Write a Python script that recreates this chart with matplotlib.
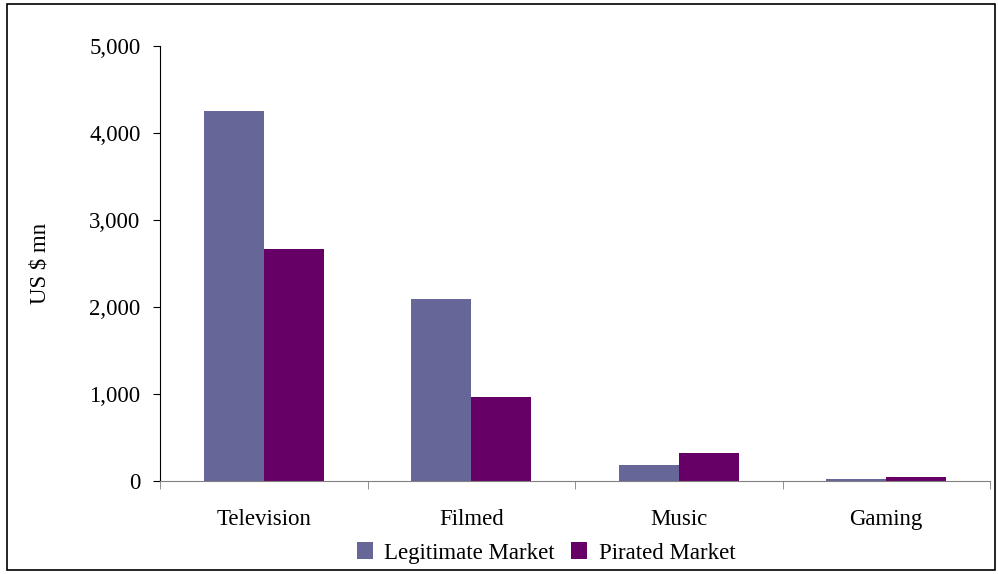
import numpy as np
import matplotlib
matplotlib.use("Agg")
import matplotlib.pyplot as plt
from matplotlib.patches import Rectangle
from matplotlib.ticker import FuncFormatter

categories = ["Television", "Filmed", "Music", "Gaming"]
legit = [4250, 2090, 185, 20]
pirated = [2670, 965, 320, 50]

plt.rcParams["font.family"] = ["Liberation Serif", "DejaVu Serif"]

fig = plt.figure(figsize=(9.98, 5.74), dpi=100)
ax = fig.add_axes([160 / 998, 1 - 481 / 574, 830 / 998, 435 / 574])

x = np.arange(len(categories))
w = 0.29
ax.bar(x - w / 2, legit, w, color="#666699", label="Legitimate Market")
ax.bar(x + w / 2, pirated, w, color="#660066", label="Pirated Market")

ax.set_xlim(-0.5, len(categories) - 0.5)
ax.set_ylim(0, 5000)
ax.set_yticks(range(0, 5001, 1000))
ax.yaxis.set_major_formatter(FuncFormatter(lambda v, p: f"{int(v):,}"))
ax.set_ylabel("US $ mn", fontsize=16.5, labelpad=28)

ax.set_xticks(x)
ax.set_xticklabels(categories, fontsize=16.5)
ax.tick_params(axis="x", length=0, pad=20)
ax.set_xticks(np.arange(-0.5, len(categories)), minor=True)
ax.tick_params(axis="x", which="minor", length=6, color="#808080", direction="out")
ax.tick_params(axis="y", labelsize=16.5, length=5, direction="out", pad=9)

for s in ["top", "right"]:
    ax.spines[s].set_visible(False)
ax.spines["bottom"].set_color("#808080")
ax.spines["left"].set_color("black")

fig.legend(loc="center", bbox_to_anchor=(546 / 998, 1 - 553 / 574), ncol=2, frameon=False,
           fontsize=16.5, handlelength=0.7, handleheight=0.7, handletextpad=0.5,
           columnspacing=0.7, borderpad=0)

fig.patches.append(Rectangle((7 / 998, 4 / 574), 988 / 998, 566 / 574, transform=fig.transFigure,
                             fill=False, edgecolor="black", linewidth=1.2))

fig.savefig("out.png", dpi=100)
